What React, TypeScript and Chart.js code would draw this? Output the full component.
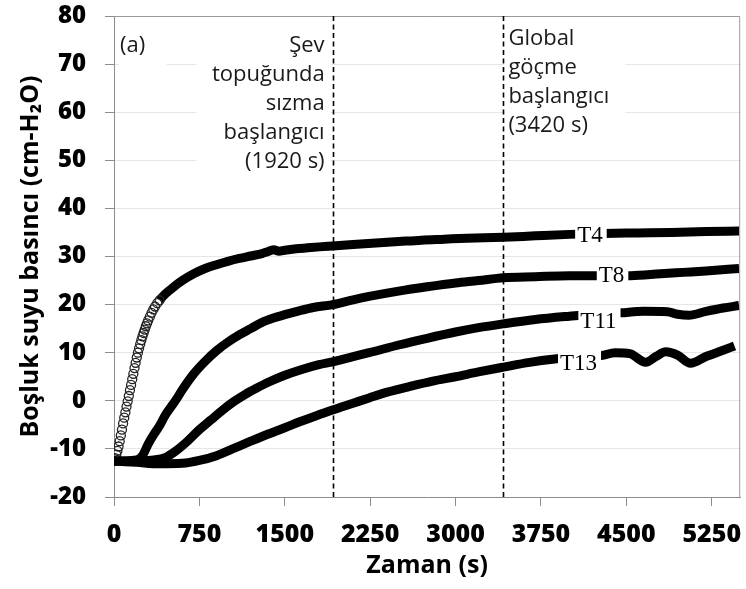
import React, { useEffect, useRef } from 'react';
import { Chart, registerables } from 'chart.js';

Chart.register(...registerables);

// ---- axis data ----
const xTicks = [0, 750, 1500, 2250, 3000, 3750, 4500, 5250];
const xMax = 5500;
const yMin = -20;
const yMax = 80;
const yStep = 10;

// ---- series (time in s, pore pressure in cm-H2O) ----
const t4Time = [0, 10, 20, 30, 40, 50, 60, 70, 80, 90, 100, 110, 120, 130, 140, 150, 160, 170, 180, 190, 200, 210, 220, 230, 240, 250, 260, 270, 280, 290, 300, 315, 330, 345, 360, 380, 400, 450, 500, 600, 700, 800, 900, 1000, 1100, 1200, 1300, 1350, 1400, 1450, 1500, 1600, 1700, 1800, 1920, 2100, 2300, 2500, 2700, 2900, 3100, 3420, 3700, 4000, 4300, 4600, 4900, 5200, 5490];
const t4Value = [-12.5, -11.9, -11.2, -10.4, -9.5, -8.4, -7.2, -6.0, -4.7, -3.5, -2.4, -1.2, -0.1, 1.0, 2.2, 3.3, 4.5, 5.6, 6.8, 7.9, 9.0, 10.0, 10.9, 11.8, 12.6, 13.4, 14.1, 14.8, 15.5, 16.1, 16.7, 17.5, 18.3, 19.0, 19.6, 20.3, 20.9, 22.2, 23.2, 25.0, 26.4, 27.5, 28.3, 29.0, 29.6, 30.1, 30.6, 31.0, 31.4, 31.1, 31.3, 31.6, 31.8, 32.0, 32.2, 32.5, 32.8, 33.1, 33.4, 33.6, 33.8, 34.0, 34.3, 34.6, 34.8, 34.9, 35.0, 35.2, 35.3];

const t8Time = [0, 100, 200, 250, 300, 350, 400, 450, 500, 550, 600, 700, 800, 900, 1000, 1100, 1200, 1300, 1400, 1500, 1625, 1750, 1920, 2100, 2240, 2500, 2750, 3000, 3200, 3420, 3700, 4000, 4300, 4540, 4800, 5000, 5200, 5490];
const t8Value = [-12.5, -12.5, -12.3, -11.4, -9.0, -7.0, -5.2, -3.0, -1.3, 0.4, 2.3, 5.6, 8.2, 10.4, 12.2, 13.7, 15.0, 16.3, 17.2, 17.9, 18.7, 19.4, 20.0, 21.0, 21.7, 22.8, 23.7, 24.5, 25.0, 25.6, 25.8, 26.0, 26.0, 26.0, 26.4, 26.7, 27.0, 27.5];

const t11Time = [0, 200, 350, 450, 550, 650, 750, 850, 950, 1050, 1150, 1250, 1350, 1500, 1650, 1800, 1920, 2100, 2240, 2500, 2750, 3000, 3200, 3420, 3700, 4000, 4200, 4450, 4650, 4860, 4950, 5050, 5200, 5350, 5490];
const t11Value = [-12.5, -12.5, -12.3, -11.8, -10.3, -8.3, -6.0, -4.0, -2.0, -0.2, 1.3, 2.6, 3.8, 5.3, 6.5, 7.5, 8.1, 9.2, 10.0, 11.6, 13.0, 14.3, 15.2, 16.0, 16.9, 17.6, 18.0, 18.3, 18.6, 18.5, 18.0, 17.8, 18.6, 19.3, 19.8];

const t13Time = [0, 200, 400, 600, 750, 900, 1041, 1200, 1333, 1500, 1625, 1800, 1920, 2100, 2240, 2400, 2600, 2800, 3000, 3200, 3420, 3650, 3870, 4100, 4280, 4400, 4530, 4670, 4760, 4845, 4950, 5063, 5200, 5350, 5450];
const t13Value = [-12.5, -12.8, -13.1, -13.0, -12.4, -11.4, -10.0, -8.4, -7.1, -5.6, -4.4, -2.9, -1.9, -0.5, 0.6, 1.8, 3.0, 4.1, 5.0, 6.0, 7.0, 8.0, 8.7, 9.2, 9.4, 10.0, 9.8, 8.0, 9.2, 10.2, 9.5, 7.8, 9.2, 10.5, 11.4];

// T4 early readings shown as open markers up to this time
const t4MarkerUntil = 400;

// ---- series labels (anchored in data coordinates) ----
const seriesNames = ['T4', 'T8', 'T11', 'T13'];
const labelTime = [4180, 4370, 4255, 4080];
const labelValue = [34.5, 26.2, 16.6, 7.9];

// ---- event markers ----
const eventTimes = [1920, 3420];
const eventLeftText = ['Şev', 'topuğunda', 'sızma', 'başlangıcı', '(1920 s)'];
const eventRightText = ['Global', 'göçme', 'başlangıcı', '(3420 s)'];
const panelTag = '(a)';

const xTitle = 'Zaman (s)';
const yTitle = 'Boşluk suyu basıncı (cm-H₂O)';

const toPoints = (t: number[], v: number[]) => t.map((x, i) => ({ x, y: v[i] }));

const SANS = '"Open Sans", "Noto Sans", sans-serif';
const SERIF = '"Liberation Serif", "DejaVu Serif", serif';

const zeroPadding = (s: any) => {
  s.paddingTop = 0;
  s.paddingBottom = 0;
  s.paddingLeft = 0;
  s.paddingRight = 0;
};

const annotationPlugin = {
  id: 'annotations',
  afterDatasetsDraw(chart: any) {
    const { ctx, chartArea: a, scales } = chart;
    const xs = scales.x;
    const ys = scales.y;
    ctx.save();

    // plot frame (top + right)
    ctx.strokeStyle = '#9a9a9a';
    ctx.lineWidth = 1;
    ctx.beginPath();
    ctx.moveTo(a.left, a.top + 0.5);
    ctx.lineTo(a.right - 0.5, a.top + 0.5);
    ctx.lineTo(a.right - 0.5, a.bottom);
    ctx.stroke();

    // series labels with white background
    ctx.font = `23px ${SERIF}`;
    ctx.textBaseline = 'middle';
    ctx.textAlign = 'center';
    seriesNames.forEach((name, i) => {
      const cx = xs.getPixelForValue(labelTime[i]);
      const cy = ys.getPixelForValue(labelValue[i]);
      const w = ctx.measureText(name).width;
      ctx.fillStyle = '#ffffff';
      ctx.fillRect(cx - w / 2 - 2, cy - 13, w + 6, 26);
      ctx.fillStyle = '#000000';
      ctx.fillText(name, cx, cy + 1);
    });

    // annotation text boxes
    const xL = xs.getPixelForValue(eventTimes[0]);
    const xR = xs.getPixelForValue(eventTimes[1]);
    ctx.fillStyle = '#ffffff';
    ctx.fillRect(a.left + 5, a.top + 13, 48, 40);
    ctx.fillRect(xL - 136, a.top + 12, 134, 158);
    ctx.fillRect(xR + 1, a.top + 2, 121, 129);

    ctx.font = `22px ${SANS}`;
    ctx.fillStyle = '#1a1a1a';
    ctx.textBaseline = 'alphabetic';
    ctx.textAlign = 'left';
    ctx.fillText(panelTag, a.left + 6, a.top + 36);

    ctx.textAlign = 'right';
    eventLeftText.forEach((s, i) => {
      ctx.fillText(s, xL - 8, a.top + 36 + i * 29);
    });
    ctx.textAlign = 'left';
    eventRightText.forEach((s, i) => {
      ctx.fillText(s, xR + 5, a.top + 29 + i * 29);
    });

    // dashed event lines
    ctx.strokeStyle = '#000000';
    ctx.lineWidth = 1.6;
    ctx.setLineDash([5, 3.5]);
    eventTimes.forEach((t) => {
      const px = Math.round(xs.getPixelForValue(t)) + 0.5;
      ctx.beginPath();
      ctx.moveTo(px, a.top);
      ctx.lineTo(px, a.bottom);
      ctx.stroke();
    });
    ctx.restore();
  },
};

export default function App() {
  const ref = useRef<HTMLCanvasElement | null>(null);

  useEffect(() => {
    if (!ref.current) return;
    const lineStyle = {
      showLine: true,
      borderColor: '#000000',
      borderWidth: 9,
      borderCapStyle: 'butt',
      borderJoinStyle: 'round',
      cubicInterpolationMode: 'monotone',
      pointRadius: 0,
      pointHoverRadius: 0,
      fill: false,
    };
    const chart = new Chart(ref.current, {
      type: 'scatter',
      data: {
        datasets: [
          { ...lineStyle, label: 'T13', data: toPoints(t13Time, t13Value) },
          { ...lineStyle, label: 'T11', data: toPoints(t11Time, t11Value) },
          { ...lineStyle, label: 'T8', data: toPoints(t8Time, t8Value) },
          {
            ...lineStyle,
            label: 'T4',
            data: toPoints(t4Time, t4Value),
            pointRadius: (c: any) => (c.raw && c.raw.x <= t4MarkerUntil ? 4.5 : 0),
            pointBorderWidth: 1.3,
            pointBorderColor: '#222222',
            pointBackgroundColor: 'rgba(0,0,0,0)',
            segment: {
              borderColor: (c: any) => (c.p1.parsed.x <= t4MarkerUntil ? 'rgba(0,0,0,0)' : '#000000'),
            },
          },
        ] as any,
      },
      options: {
        responsive: false,
        animation: false,
        devicePixelRatio: 1,
        layout: { padding: { top: 16, right: 4, left: 0, bottom: 0 } },
        plugins: {
          legend: { display: false },
          tooltip: { enabled: false },
        },
        scales: {
          x: {
            type: 'linear',
            min: 0,
            max: xMax,
            afterBuildTicks: (s: any) => {
              s.ticks = xTicks.map((v) => ({ value: v }));
            },
            afterFit: (s: any) => {
              s.height = 92;
              zeroPadding(s);
            },
            grid: {
              drawOnChartArea: false,
              drawTicks: true,
              tickLength: 9,
              tickColor: '#8c8c8c',
              lineWidth: 1,
            },
            border: { color: '#8c8c8c', width: 1 },
            ticks: {
              autoSkip: false,
              maxRotation: 0,
              padding: 14,
              color: '#000000',
              callback: (v: any) => String(v),
              font: { family: SANS, weight: '800', size: 25 },
            },
            title: {
              display: true,
              text: xTitle,
              color: '#000000',
              font: { family: SANS, weight: 'bold', size: 25 },
              padding: { top: 0, bottom: 8 },
            },
          },
          y: {
            type: 'linear',
            min: yMin,
            max: yMax,
            afterFit: (s: any) => {
              s.width = 114;
              zeroPadding(s);
            },
            grid: {
              color: '#e6e6e6',
              tickColor: '#8c8c8c',
              tickLength: 9,
              lineWidth: 1,
            },
            border: { color: '#8c8c8c', width: 1 },
            ticks: {
              stepSize: yStep,
              padding: 19,
              color: '#000000',
              callback: (v: any) => String(v),
              font: { family: SANS, weight: '800', size: 24 },
            },
            title: {
              display: true,
              text: yTitle,
              color: '#000000',
              font: { family: SANS, weight: 'bold', size: 25 },
              padding: { top: 16, bottom: 0 },
            },
          },
        },
      } as any,
      plugins: [annotationPlugin],
    });
    return () => chart.destroy();
  }, []);

  return (
    <div style={{ position: 'absolute', left: 0, top: 0, width: 746, height: 589, background: '#ffffff' }}>
      <canvas ref={ref} width={746} height={589} style={{ display: 'block', width: 746, height: 589 }} />
    </div>
  );
}
